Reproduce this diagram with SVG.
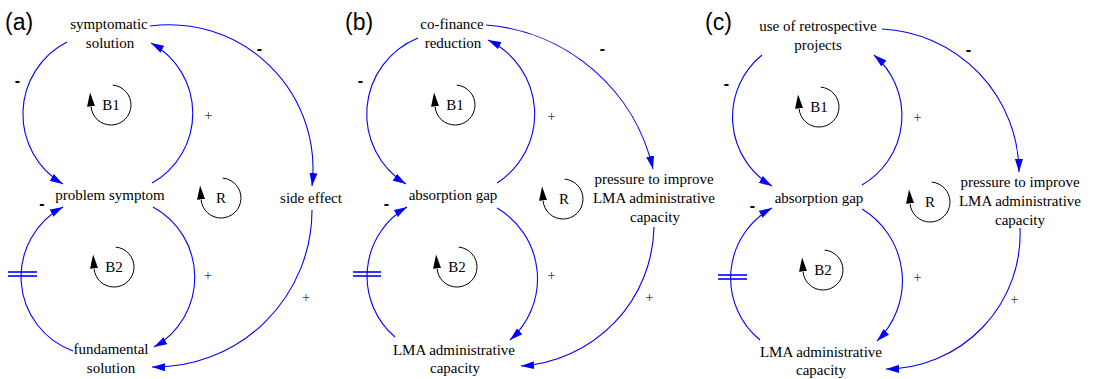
<svg xmlns="http://www.w3.org/2000/svg" width="1094" height="379" viewBox="0 0 1094 379">
<defs>
<marker id="ah" viewBox="0 0 13 8" refX="13" refY="4" markerWidth="13" markerHeight="8" markerUnits="userSpaceOnUse" orient="auto"><path d="M0,0 L13,4 L0,8 z" fill="#0000ff"/></marker>
<marker id="lh" viewBox="0 -4 14 8" refX="0" refY="0" markerWidth="14" markerHeight="8" markerUnits="userSpaceOnUse" orient="auto"><path d="M0,-4 L14,0 L0,4 z" fill="#000"/></marker>
</defs>
<style>
.lbl{font-size:15px;fill:#000;text-anchor:middle}
.pl{font-size:23px;fill:#000}
.c{fill:none;stroke:#0000ff;stroke-width:1.1;marker-end:url(#ah)}
.loop{fill:none;stroke:#000;stroke-width:1;marker-end:url(#lh)}
.d{stroke:#0000ff;stroke-width:1.6}
.neg{font-size:16px;font-weight:bold;fill:#000;text-anchor:middle}
.pos{font-size:14px;fill:#333;text-anchor:middle}
</style>
<rect width="1094" height="379" fill="#fff"/>

<g font-family="Liberation Sans, Arial, sans-serif">
<text class="pl" x="5" y="30">(a)</text>
<text class="pl" x="345" y="30">(b)</text>
<text class="pl" x="705" y="30">(c)</text>
</g>

<g font-family="Liberation Serif, Times New Roman, serif">
<!-- Panel a nodes -->
<g id="a-symptomatic-solution"><text class="lbl" x="109" y="29">symptomatic</text><text class="lbl" x="110" y="48">solution</text></g>
<g id="a-problem-symptom"><text class="lbl" x="110" y="200">problem symptom</text></g>
<g id="a-side-effect"><text class="lbl" x="311" y="203">side effect</text></g>
<g id="a-fundamental-solution"><text class="lbl" x="111" y="354">fundamental</text><text class="lbl" x="111" y="373">solution</text></g>
<g id="a-loop-B1"><path class="loop" d="M112.7,85.1 A20,20 0 1 1 91.05,106.4"/><text class="lbl" x="111" y="110">B1</text></g>
<g id="a-loop-R"><path class="loop" d="M222.7,178.1 A20,20 0 1 1 201.05,199.4"/><text class="lbl" x="221" y="203">R</text></g>
<g id="a-loop-B2"><path class="loop" d="M115.7,247.1 A20,20 0 1 1 94.05,268.4"/><text class="lbl" x="114" y="272">B2</text></g>

<!-- Panel b nodes -->
<g id="b-cofinance-reduction"><text class="lbl" x="452" y="29">co-finance</text><text class="lbl" x="453" y="48">reduction</text></g>
<g id="b-absorption-gap"><text class="lbl" x="453" y="200">absorption gap</text></g>
<g id="b-pressure"><text class="lbl" x="654" y="184">pressure to improve</text><text class="lbl" x="654" y="203">LMA administrative</text><text class="lbl" x="655" y="222">capacity</text></g>
<g id="b-lma-capacity"><text class="lbl" x="454" y="355">LMA administrative</text><text class="lbl" x="455" y="373">capacity</text></g>
<g id="b-loop-B1"><path class="loop" d="M456.7,85.1 A20,20 0 1 1 435.05,106.4"/><text class="lbl" x="455" y="110">B1</text></g>
<g id="b-loop-R"><path class="loop" d="M564.7,179.1 A20,20 0 1 1 543.05,200.4"/><text class="lbl" x="564" y="204">R</text></g>
<g id="b-loop-B2"><path class="loop" d="M458.7,247.1 A20,20 0 1 1 437.05,268.4"/><text class="lbl" x="457" y="272">B2</text></g>

<!-- Panel c nodes -->
<g id="c-retrospective"><text class="lbl" x="818" y="31">use of retrospective</text><text class="lbl" x="818" y="50">projects</text></g>
<g id="c-absorption-gap"><text class="lbl" x="819" y="203">absorption gap</text></g>
<g id="c-pressure"><text class="lbl" x="1020" y="187">pressure to improve</text><text class="lbl" x="1020" y="206">LMA administrative</text><text class="lbl" x="1020" y="225">capacity</text></g>
<g id="c-lma-capacity"><text class="lbl" x="821" y="357">LMA administrative</text><text class="lbl" x="821" y="375">capacity</text></g>
<g id="c-loop-B1"><path class="loop" d="M820.7,87.1 A20,20 0 1 1 799.05,108.4"/><text class="lbl" x="819" y="112">B1</text></g>
<g id="c-loop-R"><path class="loop" d="M931.7,182.1 A20,20 0 1 1 910.05,203.4"/><text class="lbl" x="930" y="207">R</text></g>
<g id="c-loop-B2"><path class="loop" d="M824.7,250.1 A20,20 0 1 1 803.05,271.4"/><text class="lbl" x="823" y="275">B2</text></g>
</g>

<g id="connectors">
<!-- panel a -->
<path class="c" d="M67,42 A81,81 0 0 0 63,184"/>
<path class="c" d="M152,183 A80,80 0 0 0 151,43"/>
<path class="c" d="M150,26 A144,144 0 0 1 312,186"/>
<path class="c" d="M153,207 A80,80 0 0 1 154,347"/>
<path class="c" d="M73,351 A79,79 0 0 1 63,207"/>
<path class="c" d="M312,210 A157,157 0 0 1 152,367"/>
<line class="d" x1="8" y1="272" x2="37" y2="272"/><line class="d" x1="8" y1="276" x2="37" y2="276"/>
<!-- panel b -->
<path class="c" d="M418,38 A82,82 0 0 0 406,184"/>
<path class="c" d="M497,183 A82,82 0 0 0 488,40"/>
<path class="c" d="M486,25 A186,186 0 0 1 653,169"/>
<path class="c" d="M497,208 A82,82 0 0 1 510,340"/>
<path class="c" d="M395,337 A80,80 0 0 1 407,207"/>
<path class="c" d="M654,227 A142,142 0 0 1 521,366"/>
<line class="d" x1="353" y1="272" x2="381" y2="272"/><line class="d" x1="353" y1="276" x2="381" y2="276"/>
<!-- panel c -->
<path class="c" d="M762,55 A80,80 0 0 0 772,186"/>
<path class="c" d="M862,185 A80,80 0 0 0 874,55"/>
<path class="c" d="M882,29 A144,144 0 0 1 1019,172"/>
<path class="c" d="M862,209 A84,84 0 0 1 877,341"/>
<path class="c" d="M760,340 A80,80 0 0 1 772,208"/>
<path class="c" d="M1020,228 A135,135 0 0 1 886,369"/>
<line class="d" x1="718" y1="275" x2="747" y2="275"/><line class="d" x1="718" y1="279" x2="747" y2="279"/>
<!-- polarity signs -->
<g font-family="Liberation Sans, Arial, sans-serif">
<text class="neg" x="17.5" y="86">-</text>
<text class="neg" x="259.5" y="54">-</text>
<text class="neg" x="42" y="209">-</text>
<text class="neg" x="360.5" y="86">-</text>
<text class="neg" x="602.5" y="54">-</text>
<text class="neg" x="386.5" y="209">-</text>
<text class="neg" x="726.5" y="89">-</text>
<text class="neg" x="968.5" y="55">-</text>
<text class="neg" x="752.5" y="211">-</text>
</g>
<g font-family="Liberation Serif, Times New Roman, serif">
<text class="pos" x="208.5" y="120">+</text>
<text class="pos" x="208" y="280">+</text>
<text class="pos" x="306" y="302">+</text>
<text class="pos" x="551.5" y="121">+</text>
<text class="pos" x="551.5" y="280">+</text>
<text class="pos" x="649.5" y="302">+</text>
<text class="pos" x="917.5" y="122">+</text>
<text class="pos" x="917.5" y="282">+</text>
<text class="pos" x="1014.5" y="304">+</text>
</g>
</g>
</svg>
